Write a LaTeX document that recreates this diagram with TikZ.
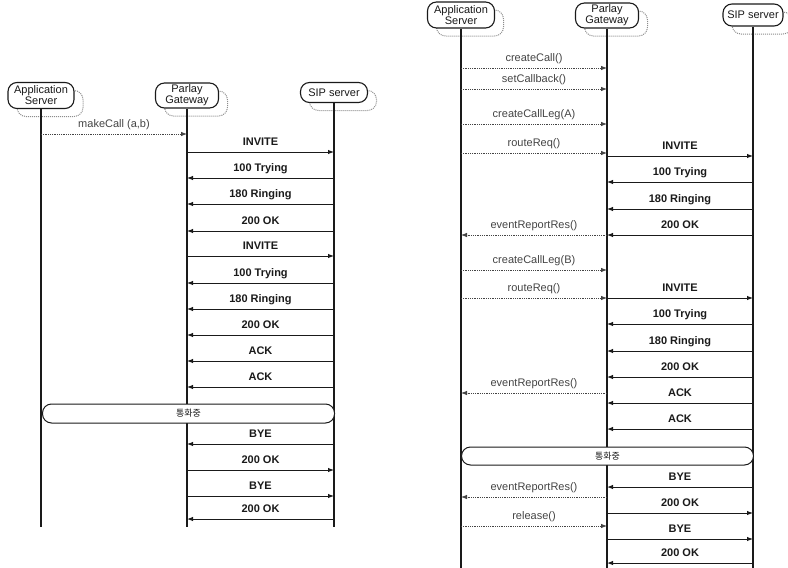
\documentclass[tikz,border=0pt]{standalone}
\usepackage{fontspec}
\setmainfont{Liberation Sans}
\newfontfamily\krfont{Noto Sans CJK KR}
\usetikzlibrary{arrows.meta}
\definecolor{ink}{HTML}{1A1A1A}
\definecolor{apiink}{HTML}{444444}
\tikzset{
  actorbox/.style={draw=ink, line width=1.1pt, rounded corners=9pt, fill=white, align=center,
    inner sep=0pt, font=\fontsize{11}{11}\selectfont, text=ink},
  shadowbox/.style={draw=gray!90, densely dotted, line width=1pt, rounded corners=9pt},
  life/.style={draw=ink, line width=1.4pt},
  lifegw/.style={draw=ink, line width=1.8pt},
  sipline/.style={draw=ink, line width=1pt, -{Latex[length=6pt,width=4.5pt]}},
  apiline/.style={draw=apiink, line width=0.8pt, densely dotted, -{Latex[length=6pt,width=4.5pt]}},
  siplab/.style={anchor=base, yshift=6.5pt, inner sep=0pt, text=ink,
    font=\bfseries\fontsize{11}{11}\selectfont},
  apilab/.style={anchor=base, yshift=6.5pt, inner sep=0pt, text=apiink,
    font=\fontsize{11}{11}\selectfont},
  callbox/.style={draw=ink, line width=1pt, rounded corners=9pt, fill=white,
    inner sep=0pt, font=\krfont\fontsize{9}{9}\selectfont, text=ink},
}
\newcommand\actor[6]{%
  \node[shadowbox, minimum width=#4pt, minimum height=#5pt] (#1-sh) at (#2+9,#3+8) {};
  \node[actorbox, minimum width=#4pt, minimum height=#5pt] (#1) at (#2,#3) {#6};
}
\newcommand\sipm[4]{\draw[sipline] (#1 |- 0,#3) -- (#2 |- 0,#3) node[siplab, midway] {#4};}
\newcommand\apim[4]{\draw[apiline] (#1 |- 0,#3) -- (#2 |- 0,#3) node[apilab, midway] {#4};}
\begin{document}
\begin{tikzpicture}[x=1pt,y=-1pt]
\useasboundingbox (0,0) rectangle (788,568);
% ---------------- left diagram ----------------
\actor{lAS}{41}{95.5}{66}{26}{Application\\Server}
\actor{lGW}{187}{95.5}{63}{25}{Parlay\\Gateway}
\actor{lSIP}{334}{92.5}{67}{20}{SIP server}
\coordinate (lASend) at (41,527);
\coordinate (lGWend) at (187,527);
\coordinate (lSIPend) at (334,527);
\draw[life] (lAS.south) -- (lASend);
\draw[lifegw] (lGW.south) -- (lGWend);
\draw[life] (lSIP.south) -- (lSIPend);
\apim{lAS}{lGW}{134}{makeCall (a,b)}
\sipm{lGW}{lSIP}{152}{INVITE}
\sipm{lSIP}{lGW}{178}{100 Trying}
\sipm{lSIP}{lGW}{204}{180 Ringing}
\sipm{lSIP}{lGW}{231}{200 OK}
\sipm{lGW}{lSIP}{256}{INVITE}
\sipm{lSIP}{lGW}{283}{100 Trying}
\sipm{lSIP}{lGW}{309}{180 Ringing}
\sipm{lSIP}{lGW}{335}{200 OK}
\sipm{lSIP}{lGW}{361}{ACK}
\sipm{lSIP}{lGW}{387}{ACK}
\node[callbox, minimum width=292pt, minimum height=19pt] (lcall) at (188.5,413.5) {통화중};
\sipm{lSIP}{lGW}{444}{BYE}
\sipm{lGW}{lSIP}{470}{200 OK}
\sipm{lGW}{lSIP}{496}{BYE}
\sipm{lSIP}{lGW}{519}{200 OK}
% ---------------- right diagram ----------------
\actor{rAS}{461}{15}{67}{26}{Application\\Server}
\actor{rGW}{607}{15.5}{63}{25}{Parlay\\Gateway}
\actor{rSIP}{753}{15}{60}{22}{SIP server}
\coordinate (rASend) at (461,568);
\coordinate (rGWend) at (607,568);
\coordinate (rSIPend) at (753,568);
\draw[life] (rAS.south) -- (rASend);
\draw[lifegw] (rGW.south) -- (rGWend);
\draw[life] (rSIP.south) -- (rSIPend);
\apim{rAS}{rGW}{68}{createCall()}
\apim{rAS}{rGW}{89}{setCallback()}
\apim{rAS}{rGW}{124}{createCallLeg(A)}
\apim{rAS}{rGW}{153}{routeReq()}
\sipm{rGW}{rSIP}{156}{INVITE}
\sipm{rSIP}{rGW}{182}{100 Trying}
\sipm{rSIP}{rGW}{209}{180 Ringing}
\sipm{rSIP}{rGW}{235}{200 OK}
\apim{rGW}{rAS}{235}{eventReportRes()}
\apim{rAS}{rGW}{270}{createCallLeg(B)}
\apim{rAS}{rGW}{298}{routeReq()}
\sipm{rGW}{rSIP}{298}{INVITE}
\sipm{rSIP}{rGW}{324}{100 Trying}
\sipm{rSIP}{rGW}{351}{180 Ringing}
\sipm{rSIP}{rGW}{377}{200 OK}
\apim{rGW}{rAS}{393}{eventReportRes()}
\sipm{rSIP}{rGW}{403}{ACK}
\sipm{rSIP}{rGW}{429}{ACK}
\node[callbox, minimum width=292pt, minimum height=18pt] (rcall) at (607.5,456) {통화중};
\sipm{rSIP}{rGW}{487}{BYE}
\apim{rGW}{rAS}{497}{eventReportRes()}
\sipm{rGW}{rSIP}{513}{200 OK}
\apim{rAS}{rGW}{526}{release()}
\sipm{rGW}{rSIP}{539}{BYE}
\sipm{rSIP}{rGW}{563}{200 OK}
\end{tikzpicture}
\end{document}
